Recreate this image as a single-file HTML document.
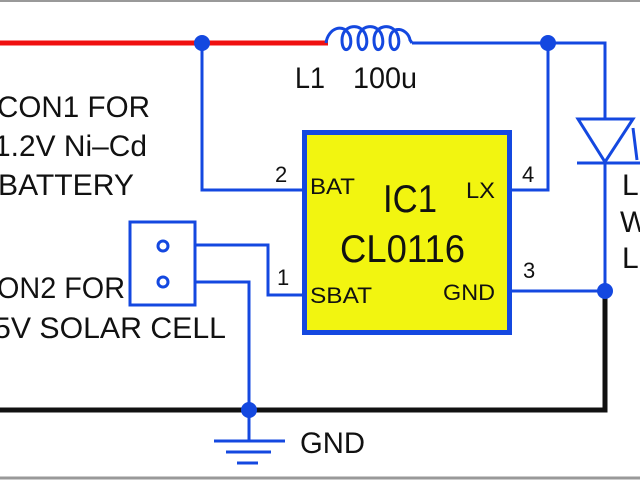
<!DOCTYPE html>
<html><head><style>
body{margin:0;background:#fff;}
svg{display:block;}
text{font-family:"Liberation Sans",sans-serif;fill:#111;}
</style></head><body>
<svg width="640" height="480" viewBox="0 0 640 480">
<line x1="0" y1="1" x2="640" y2="1" stroke="#999" stroke-width="2"/>
<line x1="0" y1="478" x2="640" y2="478" stroke="#999" stroke-width="3"/>
<line x1="0" y1="43" x2="328" y2="43" stroke="#f01010" stroke-width="5"/>
<g stroke="#1448e0" stroke-width="3" fill="none">
<polyline points="202,43 202,190 302,190"/>
<path d="M326,43 C328,28 344,22 350,36 C354,50 342,56 342,40 C342,24 362,22 366,36 C370,50 358,56 358,40 C358,24 378,22 382,36 C386,50 374,56 374,40 C374,24 394,22 398,36 C402,50 390,56 390,40 C390,24 408,28 410,40 L412,43"/>
<polyline points="412,43 605,43 605,119"/>
<polyline points="548,43 548,190 512,190"/>
<polygon points="578,119 633,119 605,162"/>
<line x1="577" y1="163" x2="640" y2="163"/>
<line x1="633" y1="128" x2="637" y2="160"/>
<line x1="605" y1="162" x2="605" y2="291"/>
<line x1="512" y1="291" x2="605" y2="291"/>
<polyline points="195,245 268,245 268,295 302,295"/>
<polyline points="195,282 249,282 249,410"/>
<rect x="130" y="222" width="65" height="83"/>
<line x1="249" y1="410" x2="249" y2="440"/>
<line x1="214" y1="441" x2="285" y2="441"/>
<line x1="226" y1="452" x2="271" y2="452"/>
<line x1="237" y1="463" x2="258" y2="463"/>
</g>
<circle cx="163" cy="246" r="5" stroke="#1448e0" stroke-width="3" fill="none"/>
<circle cx="163" cy="282" r="5" stroke="#1448e0" stroke-width="3" fill="none"/>
<polyline points="605,291 605,410 0,410" stroke="#111" stroke-width="5" fill="none"/>
<g fill="#1448e0">
<circle cx="202" cy="43" r="8"/>
<circle cx="548" cy="43" r="8"/>
<circle cx="605" cy="291" r="8"/>
<circle cx="249" cy="410" r="8"/>
</g>
<rect x="304.5" y="132.5" width="205" height="200" fill="#f2f510" stroke="#1448e0" stroke-width="5"/>
<g font-size="30">
<text x="295" y="88" textLength="30" lengthAdjust="spacingAndGlyphs">L1</text>
<text x="353" y="88" textLength="64" lengthAdjust="spacingAndGlyphs">100u</text>
<text x="-3" y="117" textLength="153" lengthAdjust="spacingAndGlyphs">CON1 FOR</text>
<text x="-6" y="156" textLength="153" lengthAdjust="spacingAndGlyphs">1.2V Ni–Cd</text>
<text x="-2" y="195" textLength="136" lengthAdjust="spacingAndGlyphs">BATTERY</text>
<text x="-3" y="298" textLength="128" lengthAdjust="spacingAndGlyphs">ON2 FOR</text>
<text x="-6" y="338" textLength="232" lengthAdjust="spacingAndGlyphs">5V SOLAR CELL</text>
<text x="622" y="195">L</text>
<text x="620" y="232">W</text>
<text x="622" y="268">L</text>
<text x="300" y="453" textLength="65" lengthAdjust="spacingAndGlyphs">GND</text>
</g>
<g font-size="22">
<text x="275" y="182">2</text>
<text x="310" y="194" textLength="45" lengthAdjust="spacingAndGlyphs">BAT</text>
<text x="466" y="198" textLength="29" lengthAdjust="spacingAndGlyphs">LX</text>
<text x="522" y="182">4</text>
<text x="277" y="285">1</text>
<text x="310" y="303" textLength="62" lengthAdjust="spacingAndGlyphs">SBAT</text>
<text x="443" y="300" textLength="52" lengthAdjust="spacingAndGlyphs">GND</text>
<text x="523" y="278">3</text>
</g>
<text x="383" y="212" font-size="39" textLength="54" lengthAdjust="spacingAndGlyphs">IC1</text>
<text x="340" y="262" font-size="39" textLength="125" lengthAdjust="spacingAndGlyphs">CL0116</text>
</svg>
</body></html>
